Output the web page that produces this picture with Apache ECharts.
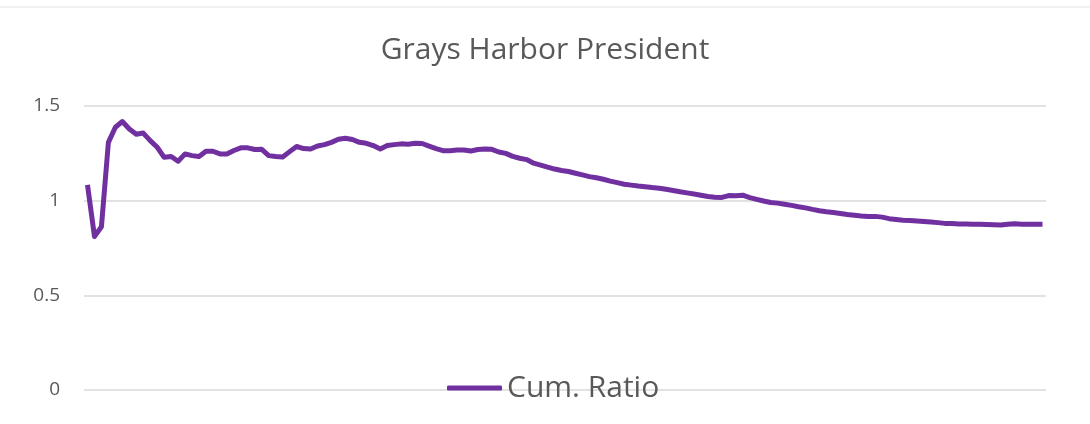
<!DOCTYPE html>
<html>
<head>
<meta charset="utf-8">
<script src="https://cdn.jsdelivr.net/npm/echarts@6/dist/echarts.min.js"></script>
<style>
  html, body { margin: 0; padding: 0; background: #fff; }
  #chart { width: 1090px; height: 424px; }
</style>
</head>
<body>
<div id="chart"></div>
<script>
// cumulative ratio readings, left to right
var ratioValues = [
  1.083, 0.811, 0.862, 1.308, 1.388, 1.418, 1.379, 1.351, 1.357, 1.317,
  1.282, 1.229, 1.233, 1.208, 1.247, 1.238, 1.233, 1.261, 1.261, 1.247,
  1.247, 1.265, 1.279, 1.279, 1.270, 1.271, 1.238, 1.233, 1.231, 1.259,
  1.286, 1.275, 1.273, 1.289, 1.296, 1.308, 1.324, 1.330, 1.323, 1.308,
  1.303, 1.291, 1.273, 1.291, 1.296, 1.300, 1.298, 1.303, 1.302, 1.288,
  1.275, 1.264, 1.264, 1.268, 1.268, 1.262, 1.270, 1.273, 1.271, 1.257,
  1.250, 1.234, 1.224, 1.217, 1.198, 1.188, 1.177, 1.167, 1.159, 1.154,
  1.145, 1.136, 1.127, 1.121, 1.113, 1.103, 1.095, 1.087, 1.082, 1.077,
  1.073, 1.069, 1.066, 1.060, 1.054, 1.047, 1.041, 1.035, 1.029, 1.022,
  1.018, 1.017, 1.027, 1.026, 1.029, 1.016, 1.007, 0.998, 0.990, 0.987,
  0.981, 0.975, 0.968, 0.962, 0.954, 0.947, 0.941, 0.937, 0.932, 0.927,
  0.923, 0.919, 0.917, 0.917, 0.913, 0.905, 0.901, 0.897, 0.895, 0.893,
  0.890, 0.887, 0.884, 0.880, 0.879, 0.877, 0.877, 0.876, 0.875, 0.874,
  0.873, 0.872, 0.876, 0.878, 0.876, 0.875, 0.875, 0.875
];
var categories = ratioValues.map(function (v, i) { return String(i + 1); });
var yTicks = [0, 0.5, 1, 1.5];

var chart = echarts.init(document.getElementById('chart'));
var font = '"Open Sans", "Liberation Sans", sans-serif';

chart.setOption({
  animation: false,
  title: {
    text: 'Grays Harbor President',
    left: 'center',
    top: 30,
    textStyle: { fontFamily: font, fontSize: 30, fontWeight: 'normal', color: '#595959' }
  },
  legend: {
    data: ['Cum. Ratio'],
    left: 442,
    top: 368,
    icon: 'roundRect',
    itemWidth: 55,
    itemHeight: 5,
    textStyle: { fontFamily: font, fontSize: 30, color: '#595959' }
  },
  grid: { left: 84, right: 44, top: 106, bottom: 34 },
  xAxis: {
    type: 'category',
    data: categories,
    boundaryGap: true,
    axisLine: { show: false },
    axisTick: { show: false },
    axisLabel: { show: false }
  },
  yAxis: {
    type: 'value',
    min: yTicks[0],
    max: yTicks[yTicks.length - 1],
    interval: 0.5,
    axisLine: { show: false },
    axisTick: { show: false },
    axisLabel: { fontFamily: font, fontSize: 19, color: '#595959', margin: 24 },
    splitLine: { lineStyle: { color: '#d9d9d9', width: 1.5 } }
  },
  graphic: [{
    type: 'line',
    shape: { x1: 0, y1: 7, x2: 1090, y2: 7 },
    style: { stroke: '#e3e3e3', lineWidth: 1 }
  }],
  series: [{
    name: 'Cum. Ratio',
    type: 'line',
    data: ratioValues,
    symbol: 'none',
    z: 1,
    lineStyle: { color: '#7030A0', width: 5, join: 'round' },
    itemStyle: { color: '#7030A0' }
  }]
});
</script>
</body>
</html>
